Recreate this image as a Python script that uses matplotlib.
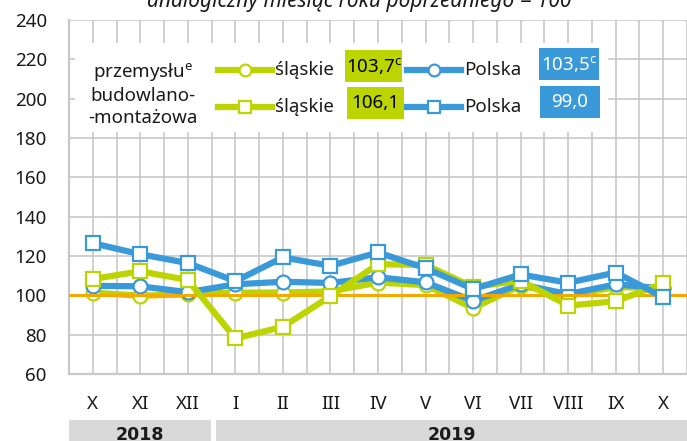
import matplotlib
matplotlib.use("Agg")
import matplotlib.pyplot as plt
from matplotlib.patches import Rectangle
from matplotlib.lines import Line2D

# ---- data ----
months = ['X', 'XI', 'XII', 'I', 'II', 'III', 'IV', 'V', 'VI', 'VII', 'VIII', 'IX', 'X']
years = ['2018', '2019']
slaskie_circ = [101.4, 99.8, 100.5, 101.4, 101.4, 102.0, 106.5, 105.2, 93.5, 105.0, 99.8, 104.2, 103.7]
polska_circ = [104.8, 104.6, 101.6, 105.6, 106.9, 106.3, 109.2, 106.6, 97.2, 105.6, 100.6, 105.6, 103.5]
slaskie_sq = [108.3, 112.2, 107.8, 78.1, 84.0, 99.6, 115.8, 115.5, 104.2, 107.5, 94.8, 97.0, 106.1]
polska_sq = [126.5, 120.9, 116.4, 107.2, 119.3, 115.0, 121.8, 113.8, 103.2, 110.6, 106.4, 111.6, 99.0]
reference = 100
yticks = [60, 80, 100, 120, 140, 160, 180, 200, 220, 240]
legend_values = ['103,7$^{\\mathrm{c}}$', '103,5$^{\\mathrm{c}}$', '106,1', '99,0']
title = 'analogiczny miesiąc roku poprzedniego = 100'

LIME = '#bcd500'
BLUE = '#3a9ad9'
ORANGE = '#f2a900'
GRID = '#c8c8c8'
TXT = '#1a1a1a'
FS = 13.5

plt.rcParams['font.family'] = ['Noto Sans', 'DejaVu Sans']
plt.rcParams['mathtext.fontset'] = 'custom'
plt.rcParams['mathtext.rm'] = 'Noto Sans'
plt.rcParams['mathtext.it'] = 'Noto Sans:italic'

W, H = 687, 441
fig = plt.figure(figsize=(W / 100, H / 100), dpi=100)

def fx(x):
    return x / W

def fy(y):
    return 1 - y / H

ax = fig.add_axes([fx(69), fy(374), (687 - 69) / W, (374 - 20) / H])
x = list(range(len(months)))

ax.set_xlim(-0.5, 12.25)
ax.set_ylim(60, 240)
ax.set_yticks(yticks)
ax.set_xticks(x)
ax.set_xticklabels(months)
ax.set_xticks([i + 0.5 for i in range(-1, 13)], minor=True)
ax.grid(True, which='both', color=GRID, lw=1.2, zorder=0)
ax.tick_params(which='both', length=0)
ax.tick_params(axis='y', pad=16, labelsize=FS, labelcolor=TXT)
ax.tick_params(axis='x', pad=15, labelsize=FS, labelcolor=TXT)
for s in ['top', 'right']:
    ax.spines[s].set_visible(False)
for s in ['left', 'bottom']:
    ax.spines[s].set_color(GRID)
    ax.spines[s].set_linewidth(1.6)

lw = 4.5
ms = 10
mew = 1.6
ax.plot(x, slaskie_circ, color=LIME, lw=lw, marker='o', ms=ms, mfc='white', mec=LIME, mew=mew, zorder=3, clip_on=False)
ax.plot(x, polska_circ, color=BLUE, lw=lw, marker='o', ms=ms, mfc='white', mec=BLUE, mew=mew, zorder=4, clip_on=False)
ax.axhline(reference, color=ORANGE, lw=2.2, zorder=5)
ax.plot(x, slaskie_sq, color=LIME, lw=lw, marker='s', ms=ms, mfc='white', mec=LIME, mew=mew, zorder=6, clip_on=False)
ax.plot(x, polska_sq, color=BLUE, lw=lw, marker='s', ms=ms, mfc='white', mec=BLUE, mew=mew, zorder=7, clip_on=False)

# ---- legend box ----
fig.patches.append(Rectangle((fx(75), fy(132)), (608 - 75) / W, (132 - 43) / H,
                             transform=fig.transFigure, facecolor='white', edgecolor='none', zorder=10))
fig.text(fx(143), fy(72), 'przemysłu$^{\\mathrm{e}}$', ha='center', va='center', fontsize=FS, color=TXT, zorder=11)
fig.text(fx(143), fy(96), 'budowlano-', ha='center', va='center', fontsize=FS, color=TXT, zorder=11)
fig.text(fx(143), fy(118), '-montażowa', ha='center', va='center', fontsize=FS, color=TXT, zorder=11)

rows = [
    (70, 'o', LIME, 'śląskie', legend_values[0], (345, 402), 'black', 50, 82),
    (70, 'o', BLUE, 'Polska', legend_values[1], (539, 599), 'white', 48, 80),
    (107, 's', LIME, 'śląskie', legend_values[2], (347, 404), 'black', 87, 119),
    (107, 's', BLUE, 'Polska', legend_values[3], (540, 600), 'white', 86, 118),
]
for i, (yy, mk, col, lab, val, (bx0, bx1), tcol, by0, by1) in enumerate(rows):
    lx0 = 218 if col == LIME else 407
    lx1 = lx0 + 54
    fig.add_artist(Line2D([fx(lx0), fx(lx1)], [fy(yy), fy(yy)], transform=fig.transFigure,
                          color=col, lw=lw, zorder=11))
    fig.add_artist(Line2D([fx((lx0 + lx1) / 2)], [fy(yy)], transform=fig.transFigure,
                          marker=mk, ms=ms * 0.85, mfc='white', mec=col, mew=mew, color=col, zorder=12))
    fig.text(fx(lx1 + 3), fy(yy), lab, ha='left', va='center', fontsize=FS, color=TXT, zorder=11)
    fig.patches.append(Rectangle((fx(bx0), fy(by1)), (bx1 - bx0) / W, (by1 - by0) / H,
                                 transform=fig.transFigure, facecolor=col, edgecolor='none', zorder=11))
    fig.text(fx((bx0 + bx1) / 2), fy((by0 + by1) / 2), val, ha='center', va='center',
             fontsize=FS, color=tcol, zorder=12)

# ---- year bands ----
bands = [(69, 211), (216, 687)]
for (b0, b1), yr in zip(bands, years):
    fig.patches.append(Rectangle((fx(b0), 0), (b1 - b0) / W, (441 - 420) / H,
                                 transform=fig.transFigure, facecolor='#d9d9d9', edgecolor='none'))
    fig.text(fx((b0 + b1) / 2), fy(435), yr, ha='center', va='center', fontsize=12.5,
             fontweight='bold', family=['DejaVu Sans'], color=TXT)

# ---- title (cut at top) ----
fig.text(fx(359), fy(7), title, ha='center', va='baseline', fontsize=15, style='italic', color=TXT)

fig.savefig('out.png', dpi=100)
